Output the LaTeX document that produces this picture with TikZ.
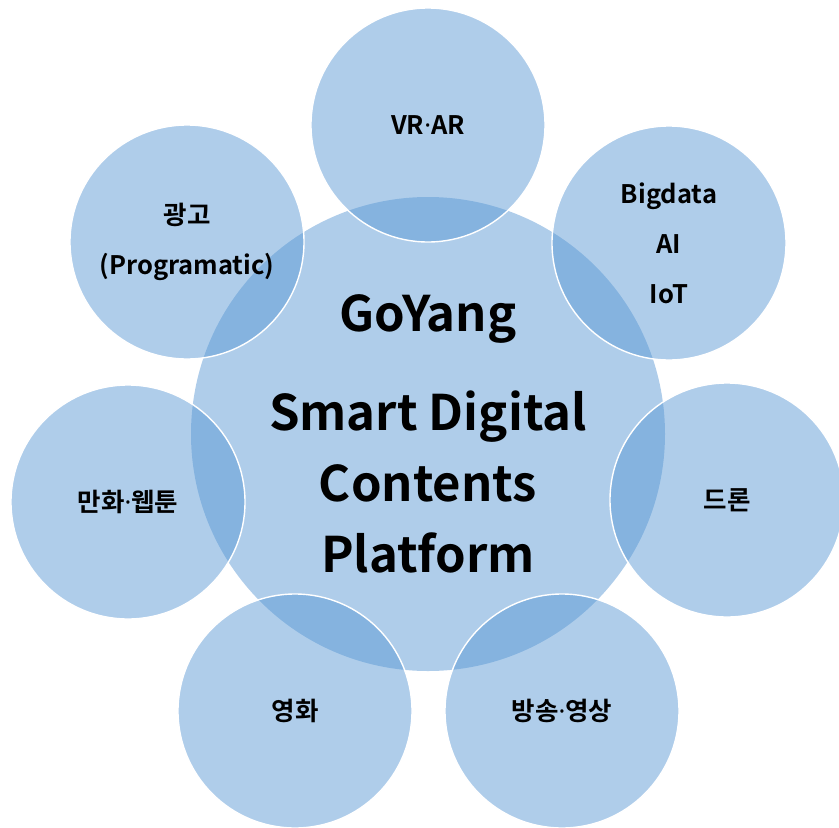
\documentclass[tikz,border=0pt]{standalone}
\usepackage{fontspec}
\setmainfont{Noto Sans CJK KR}[BoldFont={Noto Sans CJK KR Bold}]
\newfontfamily\dotf{Noto Sans}
\newcommand\md{{\dotf\bfseries ·}}
\definecolor{cfill}{RGB}{87,150,211}
\tikzset{
  bubble/.style={circle, minimum size=234pt, inner sep=0pt, fill=cfill, fill opacity=0.475, text opacity=1,
    draw=white, line width=1.4pt, align=center, font=\fontsize{25.5}{50}\selectfont\bfseries},
  hub/.style={circle, minimum size=474pt, inner sep=0pt, fill=cfill, fill opacity=0.475, text opacity=1,
    draw=none, align=center, font=\fontsize{49}{71}\selectfont\bfseries}
}
\begin{document}
\begin{tikzpicture}[x=1pt,y=-1pt]
\useasboundingbox (0,0) rectangle (839,828);
\clip (0,0) rectangle (839,828);
\node[hub] (hub) at (428,434) {GoYang\\[28pt]Smart Digital\\Contents\\Platform};
\node[bubble] (vr) at (428,125) {VR\md AR};
\node[bubble] (big) at (669,243) {Bigdata\\AI\\IoT};
\node[bubble] (drone) at (727,500) {드론};
\node[bubble] (bcast) at (562,711) {방송\md 영상};
\node[bubble] (film) at (295,711) {영화};
\node[bubble] (toon) at (128,502) {만화\md 웹툰};
\node[bubble] (ad) at (187,242) {광고\\(Programatic)};
\end{tikzpicture}
\end{document}
